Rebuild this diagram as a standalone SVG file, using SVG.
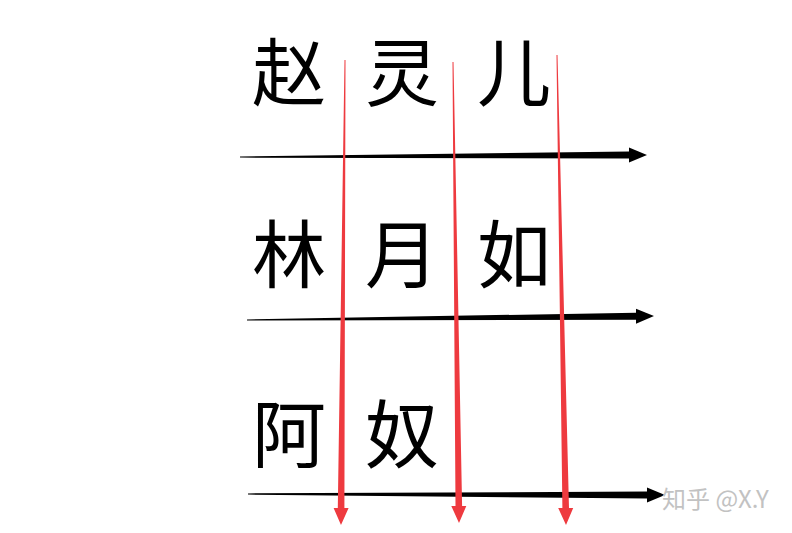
<svg xmlns="http://www.w3.org/2000/svg" width="792" height="533" viewBox="0 0 792 533">
<style>
.ch{font-family:"Noto Sans CJK SC","Noto Sans",sans-serif;font-size:74px;fill:#000}
.blk{fill:#000}
.red{fill:#ee3a3f}
.wm{font-family:"Noto Sans CJK SC","Liberation Sans",sans-serif;font-size:24px;fill:#c2c2c2}
</style>
<rect width="792" height="533" fill="#fff"/>
<g id="row1">
<text class="ch" x="252" y="100">赵</text>
<text class="ch" x="365" y="100">灵</text>
<text class="ch" x="477" y="100">儿</text>
</g>
<g id="row2">
<text class="ch" x="252" y="282">林</text>
<text class="ch" x="365" y="282">月</text>
<text class="ch" x="477" y="282">如</text>
</g>
<g id="row3">
<text class="ch" x="252" y="462">阿</text>
<text class="ch" x="365" y="462">奴</text>
</g>
<g id="connectors">
<polygon class="blk" points="240,156.4 629,151.6 629,147.6 647,155 629,162.6 629,158.6 240,157.6"/>
<polygon class="blk" points="247,319.4 636,312.7 636,308.7 654,316 636,323.7 636,319.7 247,320.6"/>
<polygon class="blk" points="248,493.4 647,491.5 647,487.5 665,495 647,502.5 647,498.5 248,494.6"/>
<polygon class="red" points="344.5,60 337.8,508 333.6,508 341,525 348.6,508 344.4,508 345.5,60"/>
<polygon class="red" points="452.5,62 455.5,506 451.3,506 459,523 466.3,506 462.1,506 453.5,62"/>
<polygon class="red" points="556.5,55 562.4,508 558.2,508 566,525 573.2,508 569,508 557.5,55"/>
</g>
<text class="wm" x="662" y="508">知乎 @X.Y</text>
</svg>
